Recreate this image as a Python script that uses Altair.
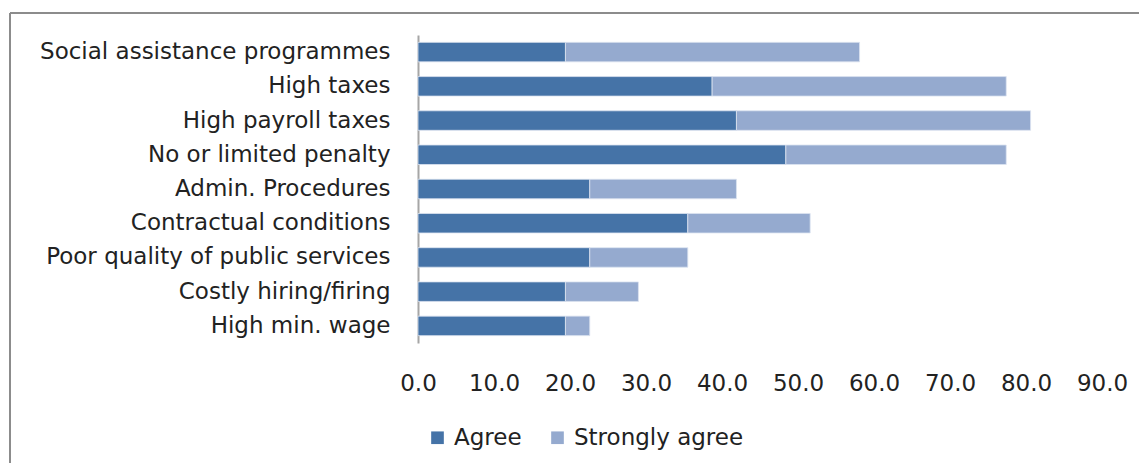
import altair as alt
import pandas as pd

categories = [
    "Social assistance programmes",
    "High taxes",
    "High payroll taxes",
    "No or limited penalty",
    "Admin. Procedures",
    "Contractual conditions",
    "Poor quality of public services",
    "Costly hiring/firing",
    "High min. wage",
]
agree = [19.4, 38.7, 41.9, 48.4, 22.6, 35.5, 22.6, 19.4, 19.4]
strongly_agree = [38.7, 38.7, 38.7, 29.0, 19.3, 16.1, 12.9, 9.6, 3.2]
series = ["Agree", "Strongly agree"]
colors = ["#4573A7", "#95AACF"]

rows = []
for c, a, s in zip(categories, agree, strongly_agree):
    rows.append({"category": c, "series": series[0], "value": a, "ord": 0})
    rows.append({"category": c, "series": series[1], "value": s, "ord": 1})
df = pd.DataFrame(rows)

W, H = 684, 308
FONT = "DejaVu Sans"
FS = 23

bars = alt.Chart(df).mark_bar(size=19.5, stroke="#DCE3F0", strokeWidth=0.8).encode(
    y=alt.Y("category:N", sort=categories, title=None,
            scale=alt.Scale(paddingInner=0.43, paddingOuter=0.215),
            axis=alt.Axis(ticks=False, domain=True, domainColor="#A6A6A6", domainWidth=2,
                          labelPadding=28, labelFontSize=FS, labelFont=FONT,
                          labelColor="#222222", labelLimit=500)),
    x=alt.X("value:Q", stack="zero", title=None,
            scale=alt.Scale(domain=[0, 90], nice=False),
            axis=alt.Axis(values=list(range(0, 100, 10)), format=".1f", ticks=False,
                          domain=False, grid=False, labelPadding=29, labelFontSize=FS,
                          labelFont=FONT, labelColor="#222222",
                          labelFlush=False)),
    color=alt.Color("series:N", sort=series, title=None,
                    scale=alt.Scale(domain=series, range=colors),
                    legend=alt.Legend(orient="none", legendX=8, legendY=391,
                                      direction="horizontal", symbolType="square",
                                      symbolSize=160, symbolStrokeWidth=0,
                                      labelFontSize=FS, labelFont=FONT, labelLimit=400,
                                      labelColor="#222222", columnPadding=24,
                                      labelOffset=5)),
    order=alt.Order("ord:Q"),
)

frame_top = alt.Chart(df).mark_rule(color="#8C8C8C", strokeWidth=2).encode(
    x=alt.value(-408), x2=alt.value(730), y=alt.value(-22)
)
frame_left = alt.Chart(df).mark_rule(color="#8C8C8C", strokeWidth=2).encode(
    x=alt.value(-408), y=alt.value(-22), y2=alt.value(440)
)

chart = alt.layer(frame_top, frame_left, bars).properties(
    width=W, height=H,
    autosize=alt.AutoSizeParams(type="none"),
    padding={"left": 418, "top": 35, "right": 37, "bottom": 120},
    background="white",
).configure_view(stroke=None, strokeWidth=0)

chart.save("out.html", embed_options={"renderer": "svg", "actions": False})
